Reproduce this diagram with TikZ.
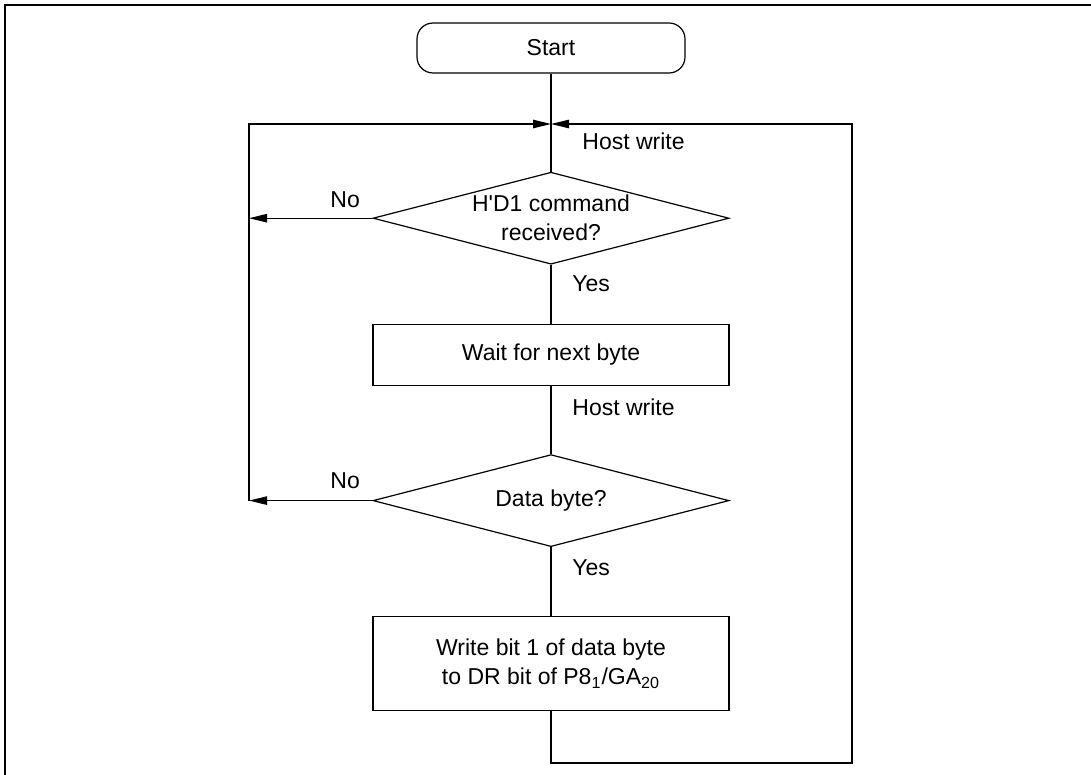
\documentclass[tikz,border=0pt]{standalone}
\usepackage{fontspec}
\setmainfont{Liberation Sans}
\usetikzlibrary{shapes.geometric, arrows.meta, positioning}
\tikzset{
  fc text/.style={
    font=\fontsize{11.5}{14.5}\selectfont
  },
  fc start/.style={
    rectangle, rounded corners=8pt, draw=black, line width=0.6pt,
    minimum width=134pt, minimum height=25pt, inner sep=0pt, fc text
  },
  fc box/.style={
    rectangle, draw=black, line width=0.6pt,
    minimum width=178pt, minimum height=30.5pt,
    align=center, inner sep=0pt, fc text
  },
  fc decision/.style={
    diamond, draw=black, line width=0.6pt,
    minimum width=178pt, minimum height=46pt, inner sep=0pt
  },
  fc line/.style={
    draw=black, line width=0.6pt
  },
  fc arrow/.style={
    fc line, -{Triangle[length=9pt,width=4.2pt]}
  },
  fc label/.style={
    anchor=base west, inner sep=0pt, fc text
  }
}

\begin{document}
\begin{tikzpicture}[x=0.5pt, y=-0.5pt]
  \useasboundingbox (0,0) rectangle (1091,775);
  \draw [line width=1pt] (5,775) -- (5,5) -- (1091,5);

  \node (start) [fc start] at (551,48) {Start};
  \node (d1) [fc decision, below=49pt of start] {};
  \node (d1txt) [fc text, align=center, inner sep=0pt] at (d1) {H\textquotesingle D1 command\\received?};
  \node (wait) [fc box, below=29.5pt of d1] {Wait for next byte};
  \node (d2) [fc decision, below=34pt of wait] {};
  \node (d2txt) [fc text, inner sep=0pt] at (d2) {Data byte?};
  \node (wr) [fc box, minimum height=47pt, below=34.5pt of d2]
    {Write bit 1 of data byte\\to DR bit of P8\textsubscript{1}/GA\textsubscript{20}};

  % loop corners
  \coordinate (jn) at (551,124);
  \coordinate (lt) at (249,124);
  \coordinate (lb) at (d2.west -| lt);
  \coordinate (rt) at (852,124);
  \coordinate (rb) at (852,763);
  \coordinate (bb) at (551,763);

  \draw [fc line] (start) -- (d1);
  \draw [fc line] (d1) -- (wait);
  \draw [fc line] (wait) -- (d2);
  \draw [fc line] (d2) -- (wr);

  \draw [fc arrow] (d1.west) -- (d1.west -| lt);
  \draw [fc arrow] (d2.west) -- (lb);
  \draw [fc arrow] (lb) -- (lt) -- (jn);
  \draw [fc arrow] (wr.south) -- (bb) -- (rb) -- (rt) -- (jn);

  \node (hw1) [fc label] at (582,150) {Host write};
  \node (no1) [fc label] at (330,207) {No};
  \node (yes1) [fc label] at (572,291) {Yes};
  \node (hw2) [fc label] at (572,415) {Host write};
  \node (no2) [fc label] at (330,488) {No};
  \node (yes2) [fc label] at (572,575) {Yes};
\end{tikzpicture}
\end{document}
